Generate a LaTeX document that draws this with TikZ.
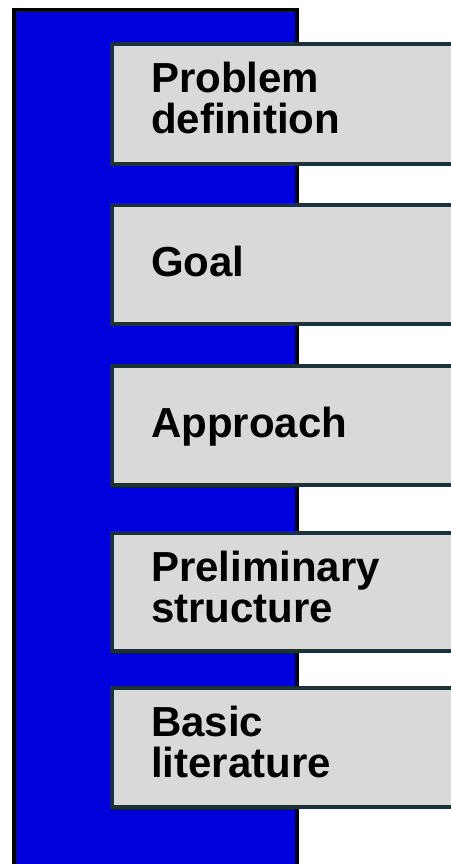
\documentclass[tikz,border=0pt]{standalone}
\usepackage{fontspec}
\setmainfont{Liberation Sans}
\definecolor{barblue}{HTML}{0000DC}
\definecolor{boxgray}{HTML}{D9D9D9}
\definecolor{boxline}{HTML}{1B3338}
\begin{document}
\begin{tikzpicture}[x=1pt,y=-1pt,
    topic/.style={fill=boxgray,draw=boxline,line width=3.5pt},
    label/.style={anchor=base west,inner sep=0pt,align=left,
        font=\bfseries\fontsize{42}{40.5}\selectfont}]
        % Fix the page size
        \useasboundingbox (0,0) rectangle (450,864);
    
        % Draw the blue bar
        \draw[fill=barblue,line width=3.5pt] (14,9.5) rectangle (297,880);
    
        % Draw the boxes
        \draw[topic] (112,44) rectangle (470,164);
        \draw[topic] (112,205) rectangle (470,324);
        \draw[topic] (112,366) rectangle (470,485);
        \draw[topic] (112,533) rectangle (470,651);
        \draw[topic] (112,688) rectangle (470,807);
    
        % Label the boxes (base is the last line)
        \node[label] (problem) at (151,133) {Problem\\definition};
        \node[label] (goal) at (151,276) {Goal};
        \node[label] (approach) at (151,437) {Approach};
        \node[label] (prelim) at (151,622) {Preliminary\\structure};
        \node[label] (lit) at (151,777) {Basic\\literature};
    
    \end{tikzpicture}
\end{document}
